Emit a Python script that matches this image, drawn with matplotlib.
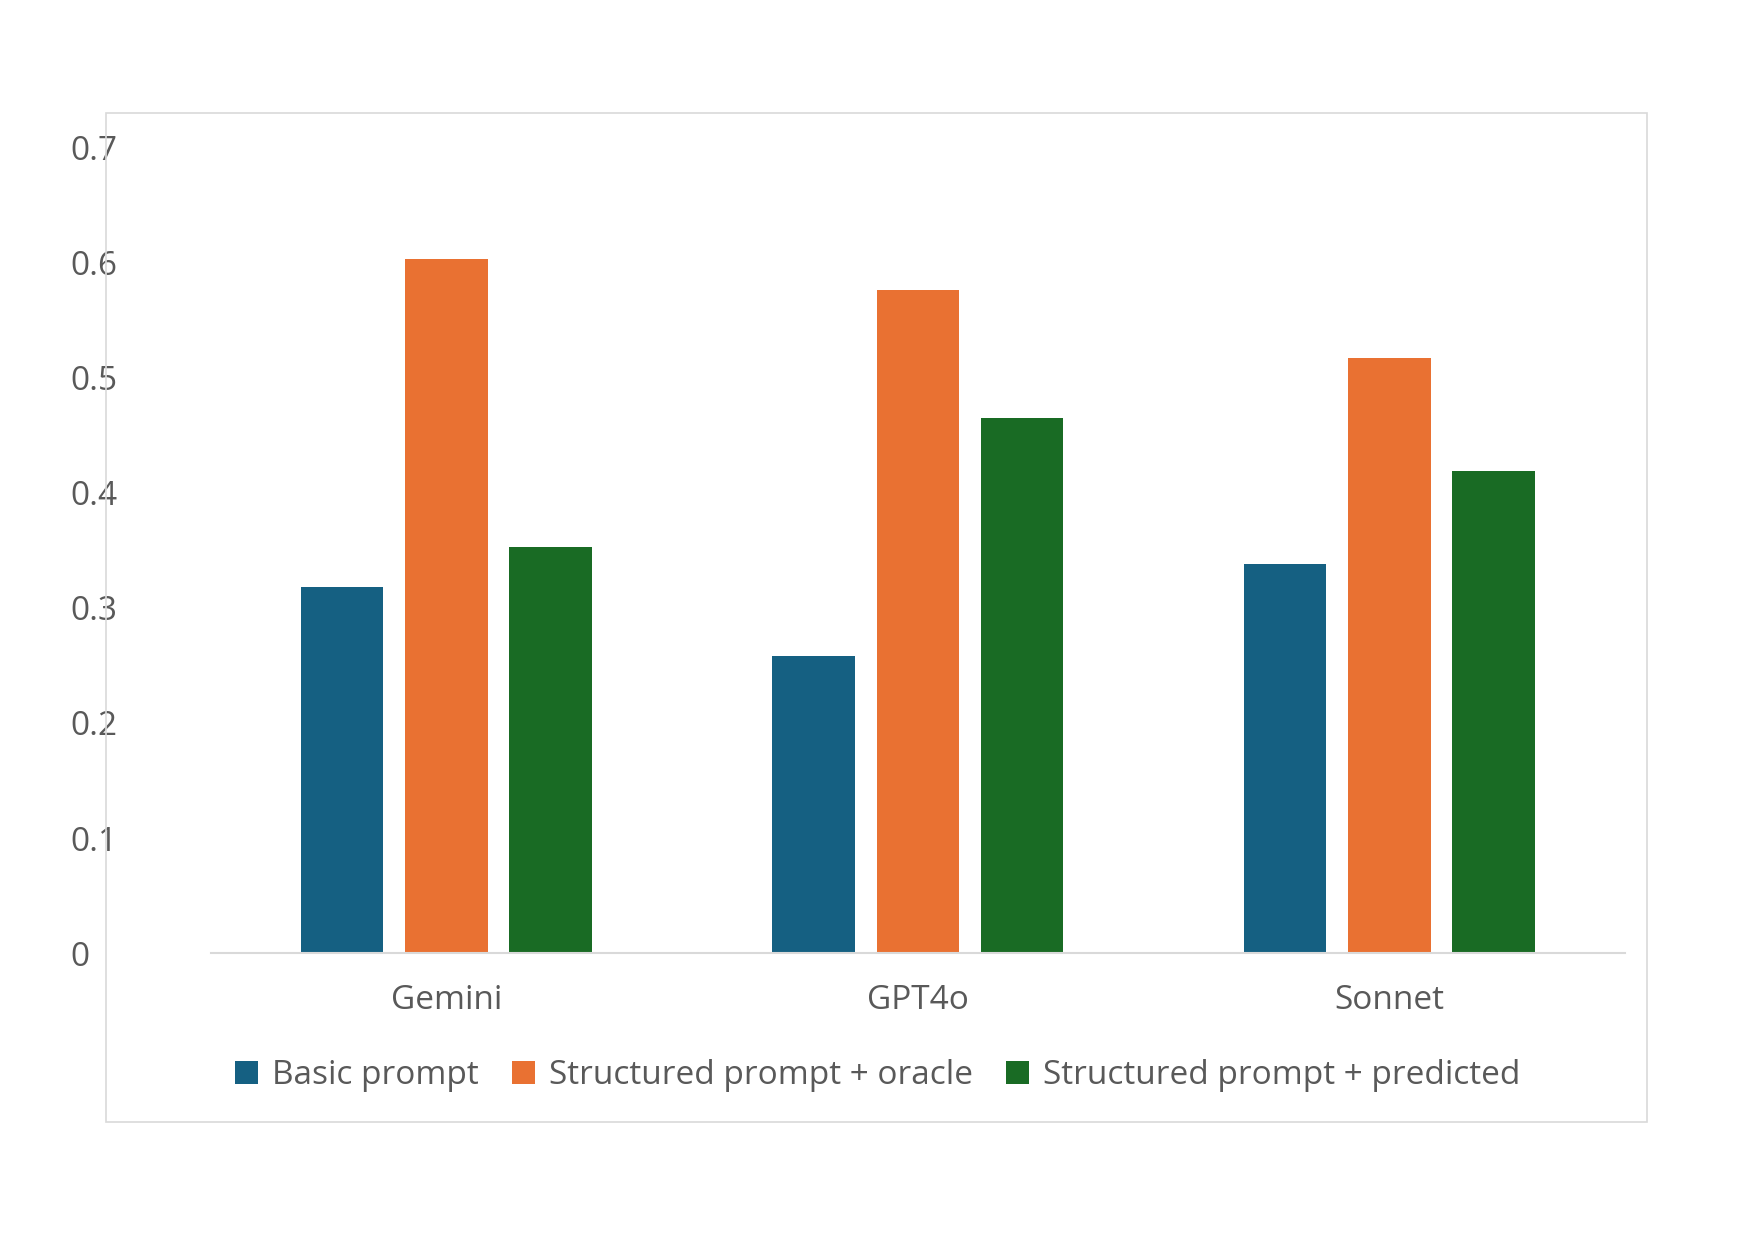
"""Grouped bar chart: prompt variants per model."""
import matplotlib
matplotlib.use("Agg")
import matplotlib.pyplot as plt
from matplotlib.patches import Rectangle
import numpy as np

models = ["Gemini", "GPT4o", "Sonnet"]
series = ["Basic prompt", "Structured prompt + oracle", "Structured prompt + predicted"]
basic = [0.318, 0.258, 0.338]
oracle = [0.603, 0.576, 0.517]
predicted = [0.353, 0.465, 0.419]
yticks = [0, 0.1, 0.2, 0.3, 0.4, 0.5, 0.6, 0.7]
ytick_labels = ["0", "0.1", "0.2", "0.3", "0.4", "0.5", "0.6", "0.7"]

colors = ["#156082", "#E97132", "#196B24"]
text_color = "#595959"
plt.rcParams["font.family"] = ["Open Sans", "DejaVu Sans"]

fig = plt.figure(figsize=(17.55, 12.41), dpi=100)
fig.patches.append(Rectangle((0.0606, 0.096), 0.878, 0.813, transform=fig.transFigure,
                             fill=False, edgecolor="#D9D9D9", lw=1.2))
ax = fig.add_axes([0.120, 0.232, 0.806, 0.649])

x = np.arange(len(models))
width, step = 0.175, 0.221
for i, (vals, name) in enumerate(zip([basic, oracle, predicted], series)):
    ax.bar(x + (i - 1) * step, vals, width, color=colors[i], label=name)

ax.set_xlim(-0.5, 2.5)
ax.set_ylim(0, 0.7)
ax.set_xticks(x)
ax.set_xticklabels(models)
ax.set_yticks(yticks)
ax.set_yticklabels(ytick_labels)
ax.tick_params(length=0, labelsize=24, colors=text_color)
ax.tick_params(axis="x", pad=22)
ax.tick_params(axis="y", pad=30)
for lbl in ax.get_yticklabels():
    lbl.set_horizontalalignment("left")
    lbl.set_x(-0.07)
for side in ["top", "right", "left"]:
    ax.spines[side].set_visible(False)
ax.spines["bottom"].set_color("#D9D9D9")
ax.spines["bottom"].set_linewidth(1.5)

leg = fig.legend(loc="center", bbox_to_anchor=(0.5, 0.133), ncol=3, frameon=False,
                 fontsize=24, handlelength=0.7, handleheight=0.7, handletextpad=0.4,
                 columnspacing=1.0)
for t in leg.get_texts():
    t.set_color(text_color)

fig.savefig("out.png", dpi=100)
